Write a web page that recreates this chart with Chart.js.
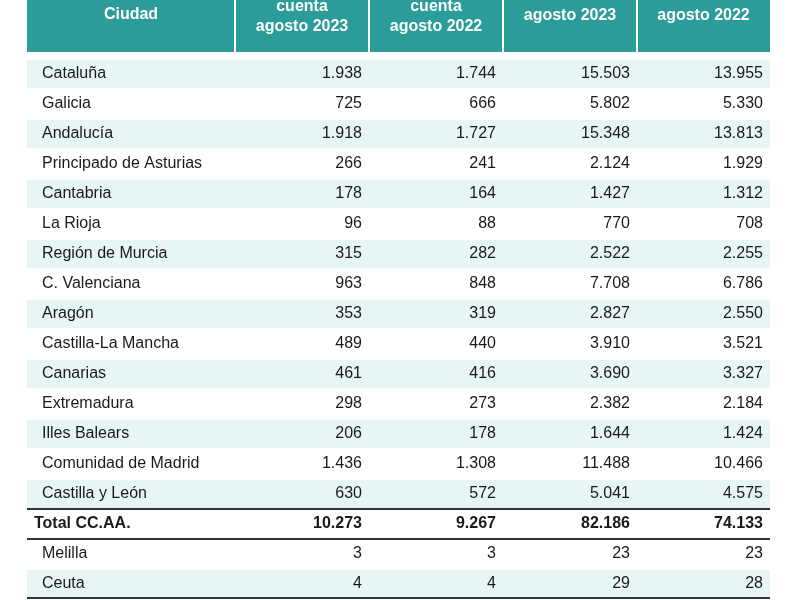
<!DOCTYPE html>
<html><head><meta charset="utf-8">
<script src="https://cdn.jsdelivr.net/npm/chart.js@4"></script>
<style>html,body{margin:0;padding:0;background:#fff}</style>
</head><body>
<canvas id="c" width="800" height="600"></canvas>
<script>
const categories = ["Cataluña","Galicia","Andalucía","Principado de Asturias","Cantabria","La Rioja","Región de Murcia","C. Valenciana","Aragón","Castilla-La Mancha","Canarias","Extremadura","Illes Balears","Comunidad de Madrid","Castilla y León","Total CC.AA.","Melilla","Ceuta"];
const cuenta2023 = ["1.938","725","1.918","266","178","96","315","963","353","489","461","298","206","1.436","630","10.273","3","4"];
const cuenta2022 = ["1.744","666","1.727","241","164","88","282","848","319","440","416","273","178","1.308","572","9.267","3","4"];
const acum2023 = ["15.503","5.802","15.348","2.124","1.427","770","2.522","7.708","2.827","3.910","3.690","2.382","1.644","11.488","5.041","82.186","23","29"];
const acum2022 = ["13.955","5.330","13.813","1.929","1.312","708","2.255","6.786","2.550","3.521","3.327","2.184","1.424","10.466","4.575","74.133","23","28"];
const headers = [["Comunidad Autónoma","Ciudad"],["Entregas a","cuenta","agosto 2023"],["Entregas a","cuenta","agosto 2022"],["Acumulado","agosto 2023"],["Acumulado","agosto 2022"]];
const shaded = [1,0,1,0,1,0,1,0,1,0,1,0,1,0,1,0,0,1];

const cols=[cuenta2023,cuenta2022,acum2023,acum2022];
const num = s=>parseFloat(s.replace(/\./g,''));
const tablePlugin={id:'table',beforeDatasetsDraw(chart){
  const ctx=chart.ctx, y=chart.scales.y, a=chart.chartArea;
  const L=a.left, R=a.right;
  const dividers=[L,235,369,503,637,R];
  ctx.save();
  ctx.fillStyle='#2b9c99'; ctx.fillRect(L,0,R-L,52);
  ctx.strokeStyle='#ffffff'; ctx.lineWidth=2;
  for(let i=1;i<5;i++){ctx.beginPath();ctx.moveTo(dividers[i],0);ctx.lineTo(dividers[i],52);ctx.stroke();}
  ctx.fillStyle='#fff'; ctx.font='bold 16px "Liberation Sans", Arial'; ctx.textAlign='center'; ctx.textBaseline='middle';
  headers.forEach((h,i)=>{const cx=(dividers[i]+dividers[i+1])/2; const base = h.length===3?-13:(i===0?-5:-4);
    h.forEach((t,j)=>ctx.fillText(t,cx,base+j*20));});
  categories.forEach((c,i)=>{
    const cy=y.getPixelForValue(i); const h=30;
    if(shaded[i]){ctx.fillStyle='#e8f5f5';ctx.fillRect(L,cy-h/2+1,R-L,h-2);}
    const bold = i===15;
    ctx.fillStyle='#1a1a1a';
    ctx.font=(bold?'bold ':'')+'16px "Liberation Sans", Arial';
    ctx.textAlign='left'; ctx.fillText(c, bold?L+7:L+15, cy);
    ctx.textAlign='right';
    cols.forEach((col,k)=>ctx.fillText(col[i], dividers[k+2]-7, cy));
  });
  ctx.strokeStyle='#333'; ctx.lineWidth=2;
  [14.5,15.5].forEach(v=>{const yy=y.getPixelForValue(v);ctx.beginPath();ctx.moveTo(L,yy);ctx.lineTo(R,yy);ctx.stroke();});
  ctx.beginPath();ctx.moveTo(L,a.bottom-1);ctx.lineTo(R,a.bottom-1);ctx.stroke();
  ctx.restore();
}};
new Chart(document.getElementById('c'),{
  type:'bar',
  data:{labels:categories,datasets:cols.map(col=>({data:col.map(num),backgroundColor:'rgba(0,0,0,0)'}))},
  options:{indexAxis:'y',responsive:false,animation:false,
    layout:{padding:{left:27,right:30,top:59,bottom:1}},
    plugins:{legend:{display:false},tooltip:{enabled:false}},
    scales:{x:{display:false},y:{display:false,offset:true}}},
  plugins:[tablePlugin]
});
</script>
</body></html>
